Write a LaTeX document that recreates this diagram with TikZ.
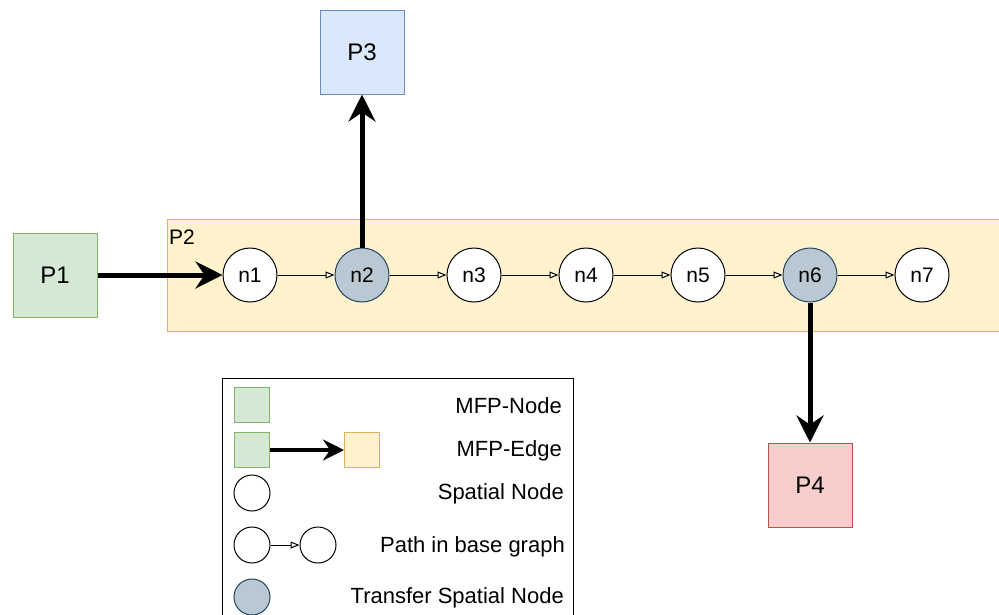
\documentclass[tikz,border=0pt]{standalone}
\usepackage{fontspec}
\setmainfont{Liberation Sans}
\usetikzlibrary{arrows.meta}

\definecolor{greenfill}{HTML}{D5E8D4}
\definecolor{greenline}{HTML}{82B366}
\definecolor{bluefill}{HTML}{DAE8FC}
\definecolor{blueline}{HTML}{6C8EBF}
\definecolor{redfill}{HTML}{F8CECC}
\definecolor{redline}{HTML}{B85450}
\definecolor{yellowfill}{HTML}{FFF2CC}
\definecolor{yellowline}{HTML}{D6B656}
\definecolor{grayfill}{HTML}{BAC8D3}
\definecolor{grayline}{HTML}{23445D}

\tikzset{
  mfpbox/.style={draw, line width=1pt, minimum size=84pt, inner sep=0pt,
    font=\fontsize{24}{28}\selectfont},
  smallbox/.style={draw, line width=1pt, minimum size=35pt, inner sep=0pt},
  spatial/.style={circle, draw=black, fill=white, line width=1pt,
    minimum size=54pt, inner sep=0pt, font=\fontsize{21}{25}\selectfont},
  transfer/.style={spatial, draw=grayline, fill=grayfill},
  smallcirc/.style={circle, draw=black, fill=white, line width=1pt,
    minimum size=36pt, inner sep=0pt},
  mfpedge/.style={line width=5pt,
    -{Stealth[length=27pt, width=27pt, inset=9pt]}},
  legendedge/.style={line width=4pt,
    -{Stealth[length=21pt, width=21pt, inset=7pt]}},
  baseedge/.style={line width=1pt,
    -{Triangle[open, length=9pt, width=7pt, fill=white]}},
  legendtext/.style={anchor=east, inner sep=0pt, font=\fontsize{22}{26}\selectfont},
}

\begin{document}
\begin{tikzpicture}[x=1pt, y=-1pt]
\useasboundingbox (0,0) rectangle (999,614);

% process band P2
\node[draw=yellowline, fill=yellowfill, line width=1pt, minimum width=845pt,
  minimum height=112pt, inner sep=0pt, anchor=north west] (band) at (167,219) {};
\node[anchor=west, inner sep=0pt, font=\fontsize{21}{25}\selectfont] (p2) at (169,237) {P2};

% MFP nodes
\node[mfpbox, draw=greenline, fill=greenfill] (p1) at (55,275) {P1};
\node[mfpbox, draw=blueline, fill=bluefill] (p3) at (362,52) {P3};
\node[mfpbox, draw=redline, fill=redfill] (p4) at (810,485) {P4};

% spatial nodes along the path
\node[spatial]  (n1) at (250,275) {n1};
\node[transfer] (n2) at (362,275) {n2};
\node[spatial]  (n3) at (474,275) {n3};
\node[spatial]  (n4) at (586,275) {n4};
\node[spatial]  (n5) at (698,275) {n5};
\node[transfer] (n6) at (810,275) {n6};
\node[spatial]  (n7) at (922,275) {n7};

\foreach \a/\b in {n1/n2, n2/n3, n3/n4, n4/n5, n5/n6, n6/n7}
  \draw[baseedge] (\a) -- (\b);

% MFP edges
\draw[mfpedge] (p1) -- (n1);
\draw[mfpedge] (n2) -- (p3);
\draw[mfpedge] (n6) -- (p4);

% legend
\node[draw=black, fill=white, line width=1pt, minimum width=351pt,
  minimum height=260pt, inner sep=0pt, anchor=north west] (legend) at (222,378) {};

\node[smallbox, draw=greenline, fill=greenfill] (lg1) at (252,405) {};
\node[legendtext] (t1) at (562,406) {MFP-Node};

\node[smallbox, draw=greenline, fill=greenfill] (lg2) at (252,450) {};
\node[smallbox, draw=yellowline, fill=yellowfill] (ly) at (362,450) {};
\draw[legendedge] (lg2) -- (ly);
\node[legendtext] (t2) at (562,451) {MFP-Edge};

\node[smallcirc] (lc1) at (252,493) {};
\node[legendtext] (t3) at (564,494) {Spatial Node};

\node[smallcirc] (lc2) at (252,545) {};
\node[smallcirc] (lc3) at (318,545) {};
\draw[baseedge] (lc2) -- (lc3);
\node[legendtext] (t4) at (565,547) {Path in base graph};

\node[smallcirc, draw=grayline, fill=grayfill] (lc4) at (252,597) {};
\node[legendtext] (t5) at (564,598) {Transfer Spatial Node};
\end{tikzpicture}
\end{document}
